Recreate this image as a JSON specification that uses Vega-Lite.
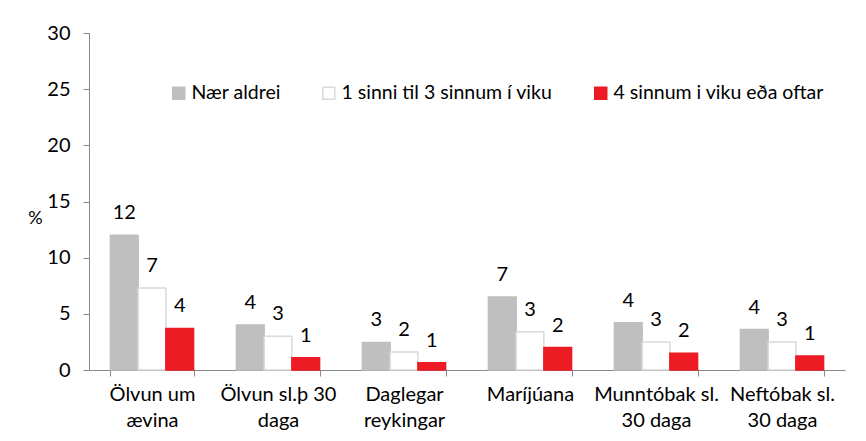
{
  "$schema": "https://vega.github.io/schema/vega-lite/v6.json",
  "width": 756,
  "height": 337,
  "autosize": "none",
  "padding": {"left": 89, "top": 33, "right": 21, "bottom": 71},
  "background": "white",
  "config": {
    "view": {"stroke": null},
    "font": "Lato",
    "axis": {"labelFont": "Lato", "titleFont": "Lato"},
    "legend": {"labelFont": "Lato"}
  },
  "data": {
    "values": [
      {"category": "Ölvun um|ævina", "series": "Nær aldrei", "value": 12.0, "label": "12"},
      {"category": "Ölvun um|ævina", "series": "1 sinni til 3 sinnum í viku", "value": 7.3, "label": "7"},
      {"category": "Ölvun um|ævina", "series": "4 sinnum i viku eða oftar", "value": 3.7, "label": "4"},
      {"category": "Ölvun sl.þ 30|daga", "series": "Nær aldrei", "value": 4.0, "label": "4"},
      {"category": "Ölvun sl.þ 30|daga", "series": "1 sinni til 3 sinnum í viku", "value": 3.0, "label": "3"},
      {"category": "Ölvun sl.þ 30|daga", "series": "4 sinnum i viku eða oftar", "value": 1.1, "label": "1"},
      {"category": "Daglegar|reykingar", "series": "Nær aldrei", "value": 2.45, "label": "3"},
      {"category": "Daglegar|reykingar", "series": "1 sinni til 3 sinnum í viku", "value": 1.6, "label": "2"},
      {"category": "Daglegar|reykingar", "series": "4 sinnum i viku eða oftar", "value": 0.65, "label": "1"},
      {"category": "Maríjúana", "series": "Nær aldrei", "value": 6.5, "label": "7"},
      {"category": "Maríjúana", "series": "1 sinni til 3 sinnum í viku", "value": 3.4, "label": "3"},
      {"category": "Maríjúana", "series": "4 sinnum i viku eða oftar", "value": 2.0, "label": "2"},
      {"category": "Munntóbak sl.|30 daga", "series": "Nær aldrei", "value": 4.2, "label": "4"},
      {"category": "Munntóbak sl.|30 daga", "series": "1 sinni til 3 sinnum í viku", "value": 2.5, "label": "3"},
      {"category": "Munntóbak sl.|30 daga", "series": "4 sinnum i viku eða oftar", "value": 1.5, "label": "2"},
      {"category": "Neftóbak sl.|30 daga", "series": "Nær aldrei", "value": 3.6, "label": "4"},
      {"category": "Neftóbak sl.|30 daga", "series": "1 sinni til 3 sinnum í viku", "value": 2.5, "label": "3"},
      {"category": "Neftóbak sl.|30 daga", "series": "4 sinnum i viku eða oftar", "value": 1.25, "label": "1"}
    ]
  },
  "encoding": {
    "x": {
      "field": "category",
      "type": "nominal",
      "sort": null,
      "scale": {"paddingInner": 0.34, "paddingOuter": 0.17},
      "axis": {
        "title": null,
        "labelAngle": 0,
        "labelExpr": "split(datum.label, '|')",
        "labelFontSize": 20,
        "labelColor": "#000000",
        "labelLineHeight": 26,
        "labelPadding": 8,
        "labelBaseline": "top",
        "labelLimit": 0,
        "tickBand": "extent",
        "tickSize": 6,
        "tickColor": "#898989",
        "domainColor": "#898989",
        "grid": false
      }
    },
    "xOffset": {
      "field": "series",
      "type": "nominal",
      "sort": null,
      "scale": {"paddingInner": 0, "paddingOuter": 0}
    },
    "y": {
      "field": "value",
      "type": "quantitative",
      "scale": {"domain": [0, 30], "nice": false},
      "axis": {
        "title": "%",
        "titleAngle": 0,
        "titleX": -54,
        "titleY": 185,
        "titleAlign": "center",
        "titleBaseline": "middle",
        "titleFontSize": 18,
        "titleFontWeight": "normal",
        "titleColor": "#000000",
        "values": [0, 5, 10, 15, 20, 25, 30],
        "labelFontSize": 20,
        "labelColor": "#000000",
        "labelPadding": 13,
        "tickSize": 6,
        "tickColor": "#898989",
        "domainColor": "#898989",
        "grid": false
      }
    }
  },
  "layer": [
    {
      "mark": {"type": "bar", "strokeWidth": 1.5},
      "encoding": {
        "fill": {
          "field": "series",
          "type": "nominal",
          "sort": null,
          "scale": {
            "domain": ["Nær aldrei", "1 sinni til 3 sinnum í viku", "4 sinnum i viku eða oftar"],
            "range": ["#bfbfbf", "#ffffff", "#ed1c24"]
          },
          "legend": {
            "title": null,
            "orient": "none",
            "direction": "horizontal",
            "legendX": 80,
            "legendY": 50,
            "symbolType": "square",
            "symbolSize": 144,
            "symbolStrokeWidth": 1.5,
            "labelFontSize": 19.5,
            "labelColor": "#000000",
            "labelOffset": 3,
            "labelLimit": 0,
            "columnPadding": 38
          }
        },
        "stroke": {
          "field": "series",
          "type": "nominal",
          "sort": null,
          "scale": {
            "domain": ["Nær aldrei", "1 sinni til 3 sinnum í viku", "4 sinnum i viku eða oftar"],
            "range": ["#bfbfbf", "#d9d9d9", "#ed1c24"]
          },
          "legend": {
            "title": null,
            "orient": "none",
            "direction": "horizontal",
            "legendX": 80,
            "legendY": 50,
            "symbolType": "square",
            "symbolSize": 144,
            "symbolStrokeWidth": 1.5,
            "labelFontSize": 19.5,
            "labelColor": "#000000",
            "labelOffset": 3,
            "labelLimit": 0,
            "columnPadding": 38
          }
        }
      }
    },
    {
      "mark": {"type": "text", "fontSize": 20, "color": "#000000", "baseline": "alphabetic", "dy": -16},
      "encoding": {
        "text": {"field": "label", "type": "nominal"}
      }
    }
  ]
}
